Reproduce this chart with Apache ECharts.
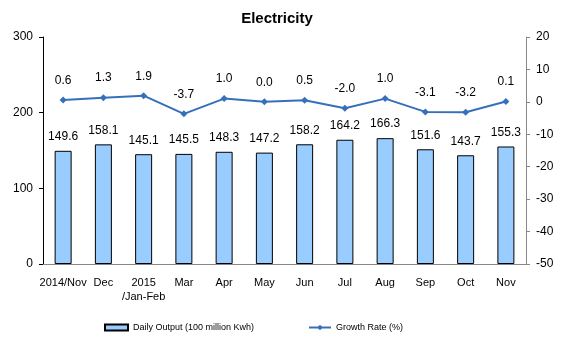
<!DOCTYPE html>
<html><head><meta charset="utf-8">
<script src="https://cdn.jsdelivr.net/npm/echarts@6/dist/echarts.min.js"></script>
<style>html,body{margin:0;padding:0;background:#fff}#c{width:561px;height:339px}</style>
</head><body><div id="c"></div>
<script>
var categories = ['2014/Nov','Dec','2015\n/Jan-Feb','Mar','Apr','May','Jun','Jul','Aug','Sep','Oct','Nov'];
var dailyOutput = [149.6,158.1,145.1,145.5,148.3,147.2,158.2,164.2,166.3,151.6,143.7,155.3];
var growthRate = [0.6,1.3,1.9,-3.7,1.0,0.0,0.5,-2.0,1.0,-3.1,-3.2,0.1];
var leftTicks = {min:0,max:300,interval:100};
var rightTicks = {min:-50,max:20,interval:10};

var chart = echarts.init(document.getElementById('c'));
var font = 'Arial, "Liberation Sans", sans-serif';
chart.setOption({
  animation:false,
  textStyle:{fontFamily:font},
  title:{text:'Electricity',left:272,textAlign:'center',top:6,textStyle:{fontSize:15,fontWeight:'bold',color:'#000',fontFamily:font}},
  grid:{left:43,right:35,top:37,bottom:75},
  legend:[
    {left:99,top:318,itemWidth:23,itemHeight:6,itemGap:10,data:[{name:'Daily Output (100 million Kwh)',icon:'rect'}],textStyle:{fontSize:9,color:'#000',fontFamily:font}},
    {left:303,top:318,itemWidth:22,itemHeight:7,data:['Growth Rate (%)'],textStyle:{fontSize:9,color:'#000',fontFamily:font}}
  ],
  xAxis:{type:'category',data:categories,
    axisLine:{lineStyle:{color:'#888'}},
    axisTick:{inside:true,length:4,lineStyle:{color:'#888'}},
    axisLabel:{color:'#000',fontSize:11,margin:12,interval:0,lineHeight:14,fontFamily:font}},
  yAxis:[
    {type:'value',min:leftTicks.min,max:leftTicks.max,interval:leftTicks.interval,
     axisLine:{show:true,lineStyle:{color:'#000'}},axisTick:{show:true,length:4,lineStyle:{color:'#000'}},
     splitLine:{show:false},axisLabel:{color:'#000',fontSize:12,margin:10,fontFamily:font}},
    {type:'value',min:rightTicks.min,max:rightTicks.max,interval:rightTicks.interval,position:'right',
     axisLine:{show:true,lineStyle:{color:'#888'}},axisTick:{show:true,length:4,lineStyle:{color:'#888'}},
     splitLine:{show:false},axisLabel:{color:'#000',fontSize:12,margin:10,fontFamily:font}}
  ],
  series:[
    {name:'Daily Output (100 million Kwh)',type:'bar',data:dailyOutput,yAxisIndex:0,barWidth:17,
     itemStyle:{color:'#99CCFF',borderColor:'#000',borderWidth:1},
     label:{show:true,position:'top',distance:8,color:'#000',fontSize:12,fontFamily:font}},
    {name:'Growth Rate (%)',type:'line',data:growthRate,yAxisIndex:1,symbol:'diamond',symbolSize:7,
     lineStyle:{color:'#3570BC',width:2},itemStyle:{color:'#3570BC'},
     label:{show:true,position:'top',distance:10,color:'#000',fontSize:12,fontFamily:font,
       formatter:function(p){return p.value.toFixed(1);}}}
  ]
});
</script></body></html>
